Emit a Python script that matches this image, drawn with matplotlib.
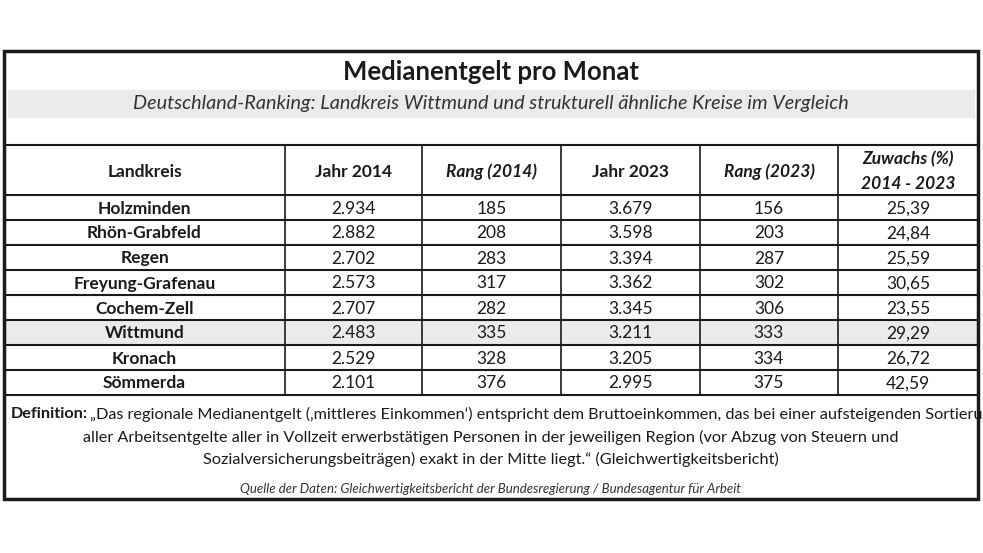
import matplotlib
matplotlib.use("Agg")
import matplotlib.pyplot as plt
from matplotlib.patches import Rectangle

landkreise = ["Holzminden", "Rhön-Grabfeld", "Regen", "Freyung-Grafenau", "Cochem-Zell", "Wittmund", "Kronach", "Sömmerda"]
jahr2014 = ["2.934", "2.882", "2.702", "2.573", "2.707", "2.483", "2.529", "2.101"]
rang2014 = [185, 208, 283, 317, 282, 335, 328, 376]
jahr2023 = ["3.679", "3.598", "3.394", "3.362", "3.345", "3.211", "3.205", "2.995"]
rang2023 = [156, 203, 287, 302, 306, 333, 334, 375]
zuwachs = ["25,39", "24,84", "25,59", "30,65", "23,55", "29,29", "26,72", "42,59"]

title = "Medianentgelt pro Monat"
subtitle = "Deutschland-Ranking: Landkreis Wittmund und strukturell ähnliche Kreise im Vergleich"
definition = ["aller Arbeitsentgelte aller in Vollzeit erwerbstätigen Personen in der jeweiligen Region (vor Abzug von Steuern und",
              "Sozialversicherungsbeiträgen) exakt in der Mitte liegt.“ (Gleichwertigkeitsbericht)"]
source = "Quelle der Daten: Gleichwertigkeitsbericht der Bundesregierung / Bundesagentur für Arbeit"

plt.rcParams['font.family'] = ['Lato', 'DejaVu Sans']
fig = plt.figure(figsize=(9.83, 5.53), dpi=100)
ax = fig.add_axes([0, 0, 1, 1])
ax.set_xlim(0, 983); ax.set_ylim(553, 0); ax.axis('off')

L, R, T, B = 4, 978, 51, 499
cols = [L, 285, 422, 561, 700, 838, R]
hdr_top, hdr_bot, rh = 145, 195, 25
k = '#1a1a1a'

ax.add_patch(Rectangle((8, 90), 967, 28, color='#ebebeb', lw=0))
wi = landkreise.index("Wittmund")
ax.add_patch(Rectangle((L, hdr_bot + wi*rh), R-L, rh, color='#ebebeb', lw=0))
ax.add_patch(Rectangle((L, T), R-L, B-T, fill=False, ec=k, lw=2.5))

ax.text(491, 72, title, ha='center', va='center', fontsize=18.5, fontweight='bold', color=k)
ax.text(491, 104, subtitle, ha='center', va='center', fontsize=14.3, style='italic', color='#333333')

nrows = len(landkreise)
ybot = hdr_bot + nrows*rh
ax.plot([L, R], [hdr_top, hdr_top], color=k, lw=1.5)
ax.plot([L, R], [hdr_bot, hdr_bot], color=k, lw=1.5)
for i in range(1, nrows+1):
    ax.plot([L, R], [hdr_bot + i*rh]*2, color=k, lw=1.5)
for x in cols[1:-1]:
    ax.plot([x, x], [hdr_top, ybot], color=k, lw=1.2)

centers = [(cols[i]+cols[i+1])/2 for i in range(6)]
hy = (hdr_top + hdr_bot)/2
hdrs = [("Landkreis", 'normal'), ("Jahr 2014", 'normal'), ("Rang (2014)", 'italic'),
        ("Jahr 2023", 'normal'), ("Rang (2023)", 'italic')]
fs = 12.5
for c, (h, st) in zip(centers, hdrs):
    ax.text(c, hy+2, h, ha='center', va='center', fontsize=fs, fontweight='bold', style=st, color=k)
ax.text(centers[5], hy-11, "Zuwachs (%)", ha='center', va='center', fontsize=fs, fontweight='bold', style='italic', color=k)
ax.text(centers[5], hy+14, "2014 - 2023", ha='center', va='center', fontsize=fs, fontweight='bold', style='italic', color=k)

for i in range(nrows):
    y = hdr_bot + i*rh + rh/2 + 1
    vals = [landkreise[i], jahr2014[i], str(rang2014[i]), jahr2023[i], str(rang2023[i]), zuwachs[i]]
    for j, (c, v) in enumerate(zip(centers, vals)):
        ax.text(c, y, v, ha='center', va='center', fontsize=fs, color=k,
                fontweight='bold' if j == 0 else 'normal')

dfs = 11.7
ax.text(11, 414, "Definition:", ha='left', va='center', fontsize=dfs, fontweight='bold', color=k)
ax.text(90, 414, "„Das regionale Medianentgelt (‚mittleres Einkommen‘) entspricht dem Bruttoeinkommen, das bei einer aufsteigenden Sortierung",
        ha='left', va='center', fontsize=dfs, color=k)
ax.text(491, 437, definition[0], ha='center', va='center', fontsize=dfs, color=k)
ax.text(491, 459, definition[1], ha='center', va='center', fontsize=dfs, color=k)
ax.text(491, 489, source, ha='center', va='center', fontsize=9.5, style='italic', color='#333333')

fig.savefig("out.png", dpi=100)
